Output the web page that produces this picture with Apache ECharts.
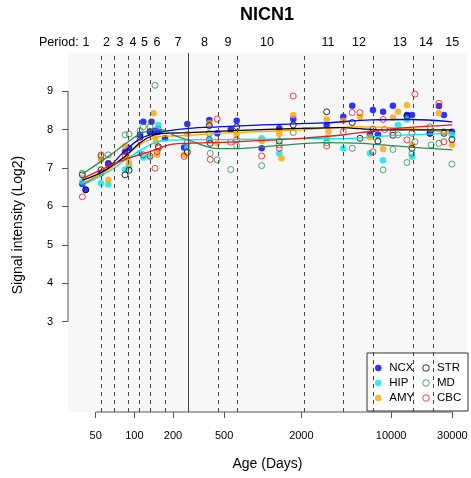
<!DOCTYPE html>
<html>
<head>
<meta charset="utf-8">
<script src="https://cdn.jsdelivr.net/npm/echarts@6/dist/echarts.min.js"></script>
<style>
html, body { margin: 0; padding: 0; background: #fff; }
#chart { width: 471px; height: 478px; }
</style>
</head>
<body>
<div id="chart"></div>
<script>
// Ages are days post-conception; signal is log2 intensity.
const ageTicks = [50, 100, 200, 500, 2000, 10000, 30000];
const signalTicks = [3, 4, 5, 6, 7, 8, 9];
const ageRange = [30.4, 39040];
const signalRange = [0.65, 9.99];

const periodNames = ['1','2','3','4','5','6','7','8','9','10','11','12','13','14','15'];
const periodLabelAges = [42, 60.7, 77.3, 97.6, 120, 150, 219, 352, 536, 1079, 3222, 5618, 11720, 18677, 29950];
const periodBoundaries = [55, 69, 90, 110, 132, 174, 446, 630, 2070, 4270, 7220, 14800, 21600];
const birthAge = 265;

const regionNames = ['NCX', 'HIP', 'AMY', 'STR', 'MD', 'CBC'];
const legendOrder = ['NCX', 'STR', 'HIP', 'MD', 'AMY', 'CBC'];

const ncx = [[39.3,6.58],[41.8,6.43],[55,6.86],[62.7,7.12],[84.6,7.42],[90.9,7.52],[110.7,7.86],[117.4,8.20],[132.4,7.94],[136,8.20],[144.8,7.97],[153.7,7.94],[173.3,7.77],[243.6,7.53],[258.5,8.14],[383.5,8.25],[442.6,7.90],[562.9,7.99],[626.8,8.23],[981,7.51],[1345,8.03],[1729,8.27],[3148,8.12],[4240,8.33],[4982,8.62],[6843,7.87],[7222,8.51],[7900,7.87],[8659,8.46],[10336,8.62],[13291,8.38],[14537,8.38],[20078,7.90],[23594,8.61],[25804,8.38],[29785,7.94]];
const hip = [[39.3,6.64],[55,6.60],[62.7,6.57],[84.6,6.96],[90.9,7.05],[110.7,7.38],[117.4,7.27],[132.4,7.28],[153.7,8.12],[258.5,7.53],[383.5,7.75],[981,7.77],[1345,7.38],[3148,7.77],[4240,7.51],[6843,7.38],[8659,7.20],[11307,8.12],[13291,8.26],[14537,7.29],[29785,7.86]];
const amy = [[55,7.22],[62.7,6.69],[84.6,7.57],[88,7.25],[90.9,7.12],[141,8.42],[144.8,7.81],[147,7.68],[150,7.34],[243.6,7.34],[258.5,7.88],[383.5,8.16],[442.6,7.64],[626.8,7.86],[981,7.70],[1345,7.88],[1400,7.25],[1729,8.38],[3148,8.26],[3250,7.94],[4240,8.23],[5719,8.33],[6843,7.80],[8659,7.49],[10336,8.31],[11307,8.46],[13291,8.64],[14537,7.60],[23594,8.42],[29785,7.60]];
const str = [[39.3,6.82],[41.8,6.43],[55,6.95],[62.7,7.10],[84.6,6.82],[90.9,6.94],[110.7,7.80],[132.4,7.94],[153.7,7.55],[258.5,7.41],[383.5,8.10],[390,7.64],[626.8,8.07],[1345,7.70],[1729,8.12],[3148,8.46],[4982,8.18],[5719,7.77],[7222,8.01],[7900,7.70],[10336,7.85],[13291,8.35],[14537,7.51],[20078,7.90],[25804,7.90],[29785,7.74]];
const md = [[39.3,6.86],[55,7.30],[62.7,7.34],[84.6,7.86],[90.9,7.88],[110.7,7.97],[117.4,8.07],[132.4,8.07],[144.8,9.15],[153.7,8.00],[383.5,7.90],[390,7.38],[442.6,7.21],[562.9,6.96],[626.8,7.58],[981,7.06],[1345,7.60],[1729,7.92],[3148,7.65],[4982,7.51],[7900,7.68],[8659,6.95],[10336,7.48],[11307,7.86],[13291,7.14],[14537,7.38],[15344,7.68],[20078,8.07],[20500,7.60],[23594,7.64],[25804,7.94],[29785,7.10]];
const cbc = [[39.3,6.25],[55,7.34],[62.7,7.10],[84.6,7.33],[110.7,7.72],[117.4,7.34],[132.4,7.31],[144.8,6.99],[150,7.42],[153.7,7.51],[243.6,7.30],[258.5,7.67],[383.5,7.73],[390,7.22],[442.6,8.27],[562.9,7.67],[626.8,7.73],[981,7.31],[1345,7.51],[1729,8.87],[3148,7.57],[4240,7.94],[4982,8.44],[5719,8.44],[7222,7.42],[8659,8.26],[8900,8.00],[10336,7.92],[13291,7.73],[14537,7.90],[15344,8.92],[23594,8.68],[25804,7.68]];

// Smoothed trend per region
const ncxFit = [[39.3,6.56],[55,6.85],[62.7,7.00],[84.6,7.45],[110,7.75],[140,7.88],[175,7.96],[265,8.03],[450,8.07],[1000,8.12],[3000,8.17],[7000,8.25],[14000,8.26],[30000,8.20]];
const hipFit = [[39.3,6.55],[62.7,6.90],[84.6,7.20],[110,7.45],[140,7.64],[175,7.72],[265,7.73],[600,7.74],[2000,7.76],[5000,7.77],[10000,7.84],[30000,7.90]];
const amyFit = [[39.3,6.60],[62.7,6.95],[84.6,7.30],[110,7.60],[150,7.80],[200,7.83],[265,7.85],[600,7.92],[2000,7.99],[5000,8.07],[12000,8.04],[30000,7.90]];
const strFit = [[39.3,6.68],[55,6.88],[84.6,7.30],[110,7.65],[140,7.85],[170,7.90],[265,7.92],[600,7.97],[2000,8.03],[4000,8.05],[8000,7.99],[30000,7.99]];
const mdFit = [[39.3,6.84],[62.7,7.30],[84.6,7.62],[110,7.88],[140,7.99],[160,8.00],[200,7.86],[265,7.72],[450,7.50],[600,7.50],[1300,7.58],[3000,7.66],[6000,7.64],[12000,7.56],[30000,7.47]];
const cbcFit = [[39.3,6.72],[84.6,7.22],[130,7.42],[200,7.62],[265,7.64],[600,7.68],[2000,7.77],[4000,7.85],[8000,7.98],[15000,8.06],[30000,8.12]];

const colors = { NCX: '#0000ff', HIP: '#00e5ee', AMY: '#ffa500', STR: '#000000', MD: '#2e8b57', CBC: '#e41a1c' };
const openRegions = { STR: true, MD: true, CBC: true };
const pointSets = { NCX: ncx, HIP: hip, AMY: amy, STR: str, MD: md, CBC: cbc };
const fitSets = { NCX: ncxFit, HIP: hipFit, AMY: amyFit, STR: strFit, MD: mdFit, CBC: cbcFit };

const lg = v => Math.log10(v);
const toXY = arr => arr.map(([a, v]) => [lg(a), v]);
const FONT = 'Liberation Sans, Arial, Helvetica, sans-serif';

const periodLogs = periodLabelAges.map(lg);
const axisColor = '#555';

const markerStyle = name => openRegions[name]
  ? { color: 'rgba(0,0,0,0)', borderColor: colors[name], borderWidth: 1 }
  : { color: colors[name], borderWidth: 0 };

const series = [];
regionNames.forEach(name => {
  const open = !!openRegions[name];
  series.push({
    name: name,
    type: 'scatter',
    data: toXY(pointSets[name]),
    symbol: 'circle',
    symbolSize: open ? 6 : 6.5,
    itemStyle: markerStyle(name),
    z: 3,
    silent: true
  });
});
regionNames.forEach(name => {
  series.push({
    name: name + ' trend',
    type: 'line',
    data: toXY(fitSets[name]),
    smooth: 0.35,
    symbol: 'none',
    lineStyle: { color: colors[name], width: 1.3 },
    z: 4,
    silent: true
  });
});

// Axis lines spanning the labelled range only, plus the period boundaries
series.push({
  name: 'axes',
  type: 'line',
  data: [[lg(ageTicks[0]), signalRange[0]], [lg(ageTicks[ageTicks.length - 1]), signalRange[0]]],
  symbol: 'none',
  clip: false,
  lineStyle: { color: axisColor, width: 1 },
  silent: true,
  z: 5,
  markLine: {
    silent: true,
    symbol: ['none', 'none'],
    label: { show: false },
    data: periodBoundaries.map(d => ({ xAxis: lg(d), lineStyle: { type: [4, 4], color: '#444', width: 1 } }))
      .concat([{ xAxis: lg(birthAge), lineStyle: { type: 'solid', color: '#444', width: 1 } }])
  }
});
series.push({
  name: 'yaxis',
  type: 'line',
  data: [[lg(ageRange[0]), signalTicks[0]], [lg(ageRange[0]), signalTicks[signalTicks.length - 1]]],
  symbol: 'none',
  clip: false,
  lineStyle: { color: axisColor, width: 1 },
  silent: true,
  z: 5
});

const chart = echarts.init(document.getElementById('chart'), null, { renderer: 'canvas' });
chart.setOption({
  animation: false,
  backgroundColor: '#ffffff',
  textStyle: { fontFamily: FONT },
  title: {
    text: 'NICN1',
    left: 240,
    top: 6,
    padding: 0,
    textStyle: { fontFamily: FONT, fontSize: 18, fontWeight: 'bold', color: '#000' }
  },
  grid: {
    left: 68, right: 4, top: 53, bottom: 66,
    show: true, backgroundColor: '#f7f7f7', borderWidth: 0
  },
  legend: {
    data: legendOrder.map(n => ({ name: n, icon: 'circle', itemStyle: markerStyle(n) })),
    orient: 'horizontal',
    left: 367,
    top: 353,
    width: 96,
    padding: [9, 1, 7, 8],
    itemGap: 3,
    itemWidth: 12,
    itemHeight: 6.5,
    selectedMode: false,
    backgroundColor: '#ffffff',
    borderColor: '#333',
    borderWidth: 1,
    borderRadius: 0,
    textStyle: { fontFamily: FONT, fontSize: 11.5, color: '#000', width: 30, lineHeight: 12 }
  },
  xAxis: [
    {
      type: 'value',
      min: lg(ageRange[0]),
      max: lg(ageRange[1]),
      position: 'bottom',
      axisLine: { show: false },
      splitLine: { show: false },
      axisTick: { show: true, customValues: ageTicks.map(lg), length: 6, lineStyle: { color: axisColor } },
      axisLabel: {
        show: true,
        customValues: ageTicks.map(lg),
        formatter: v => String(Math.round(Math.pow(10, v))),
        fontSize: 11, color: '#000', margin: 18, fontFamily: FONT
      },
      name: 'Age (Days)',
      nameLocation: 'middle',
      nameGap: 45,
      nameTextStyle: { fontSize: 14, color: '#000', fontFamily: FONT }
    },
    {
      type: 'value',
      min: lg(ageRange[0]),
      max: lg(ageRange[1]),
      position: 'top',
      axisLine: { show: false },
      splitLine: { show: false },
      axisTick: { show: false },
      axisLabel: {
        show: true,
        customValues: periodLogs,
        formatter: v => {
          let best = 0;
          periodLogs.forEach((p, i) => { if (Math.abs(p - v) < Math.abs(periodLogs[best] - v)) best = i; });
          return periodNames[best];
        },
        fontSize: 12.5, color: '#000', margin: 4, fontFamily: FONT
      }
    }
  ],
  yAxis: {
    type: 'value',
    min: signalRange[0],
    max: signalRange[1],
    axisLine: { show: false },
    splitLine: { show: false },
    axisTick: { show: true, customValues: signalTicks, length: 6, lineStyle: { color: axisColor } },
    axisLabel: { show: true, customValues: signalTicks, fontSize: 11, color: '#000', margin: 15, fontFamily: FONT }
  },
  graphic: [
    {
      type: 'text',
      left: 39,
      top: 36,
      style: { text: 'Period:', font: '12.5px ' + FONT, fill: '#000' }
    },
    {
      type: 'text',
      x: 18,
      y: 225,
      rotation: Math.PI / 2,
      style: { text: 'Signal intensity (Log2)', font: '14px ' + FONT, fill: '#000', align: 'center', verticalAlign: 'middle' }
    }
  ],
  series: series
});
</script>
</body>
</html>
